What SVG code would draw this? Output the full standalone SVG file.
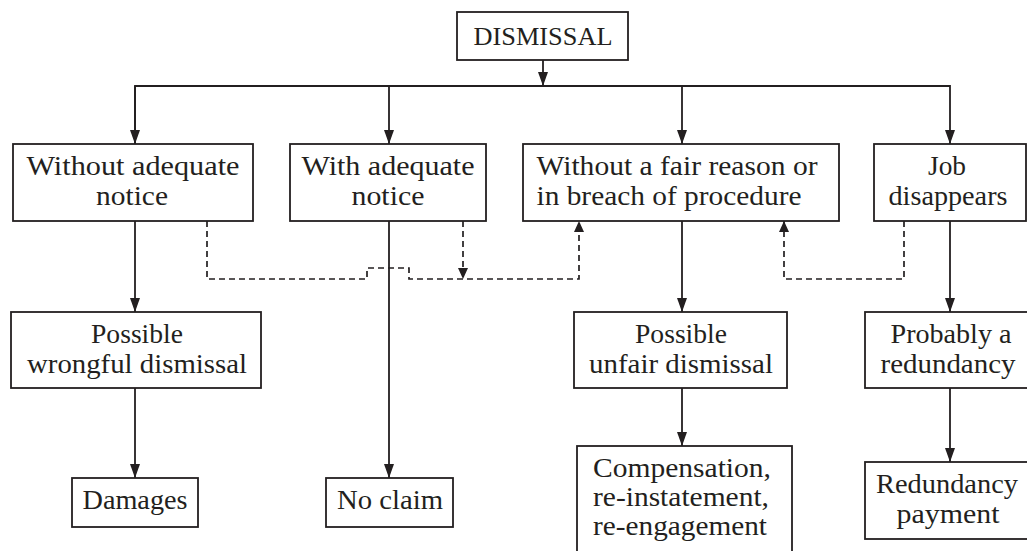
<svg xmlns="http://www.w3.org/2000/svg" width="1027" height="551" viewBox="0 0 1027 551">
<style>
.box{fill:#fff;stroke:#231f20;stroke-width:1.8}
.t{font-family:"Liberation Serif","Times New Roman",serif;font-size:27.5px;fill:#231f20;text-anchor:middle}
.c{font-size:26px}
.l{stroke:#231f20;stroke-width:1.8;fill:none}
.d{stroke:#231f20;stroke-width:1.7;fill:none;stroke-dasharray:6 4}
</style>
<defs>
<marker id="ah" viewBox="0 0 14 10" refX="14" refY="5" markerWidth="14" markerHeight="10" markerUnits="userSpaceOnUse" orient="auto"><path d="M0,0 L14,5 L0,10 Z" fill="#231f20"/></marker>
<marker id="ahs" viewBox="0 0 11 10" refX="11" refY="5" markerWidth="11" markerHeight="10" markerUnits="userSpaceOnUse" orient="auto"><path d="M0,0 L11,5 L0,10 Z" fill="#231f20"/></marker>
</defs>
<rect width="1027" height="551" fill="#fff"/>
<g id="connectors">
<path class="l" d="M543,60 V86" marker-end="url(#ah)"/>
<path class="l" d="M135,144 V86 H950 V144" marker-end="url(#ah)"/>
<path class="l" d="M135,86 V144" marker-end="url(#ah)"/>
<path class="l" d="M389,86 V144" marker-end="url(#ah)"/>
<path class="l" d="M682,86 V144" marker-end="url(#ah)"/>
<path class="l" d="M135,221 V312" marker-end="url(#ah)"/>
<path class="l" d="M135,388 V478" marker-end="url(#ah)"/>
<path class="l" d="M389,221 V478" marker-end="url(#ah)"/>
<path class="l" d="M682,221 V312" marker-end="url(#ah)"/>
<path class="l" d="M682,388 V446" marker-end="url(#ah)"/>
<path class="l" d="M950,221 V312" marker-end="url(#ah)"/>
<path class="l" d="M950,388 V462" marker-end="url(#ah)"/>
<path class="d" d="M207,221 V279 H367 V268 H409 V279 H579 V221" marker-end="url(#ahs)"/>
<path class="d" d="M463,221 V279" marker-end="url(#ahs)"/>
<path class="d" d="M904,221 V279 H784 V221" marker-end="url(#ahs)"/>
</g>
<g id="dismissal"><rect class="box" x="457" y="12" width="171" height="48"/><text class="t c" x="543" y="45" textLength="139" lengthAdjust="spacingAndGlyphs">DISMISSAL</text></g>
<g id="without-notice"><rect class="box" x="13" y="144" width="240" height="77"/><text class="t" x="133" y="175" textLength="213" lengthAdjust="spacingAndGlyphs">Without adequate</text><text class="t" x="132" y="205" textLength="72" lengthAdjust="spacingAndGlyphs">notice</text></g>
<g id="with-notice"><rect class="box" x="290" y="144" width="196" height="77"/><text class="t" x="388" y="175" textLength="173" lengthAdjust="spacingAndGlyphs">With adequate</text><text class="t" x="388" y="205" textLength="73" lengthAdjust="spacingAndGlyphs">notice</text></g>
<g id="unfair-reason"><rect class="box" x="523" y="144" width="316" height="77"/><text class="t" x="677" y="175" textLength="281" lengthAdjust="spacingAndGlyphs">Without a fair reason or</text><text class="t" x="669" y="205" textLength="265" lengthAdjust="spacingAndGlyphs">in breach of procedure</text></g>
<g id="job-disappears"><rect class="box" x="874" y="144" width="152" height="77"/><text class="t" x="947" y="175" textLength="38" lengthAdjust="spacingAndGlyphs">Job</text><text class="t" x="948" y="205" textLength="119" lengthAdjust="spacingAndGlyphs">disappears</text></g>
<g id="wrongful"><rect class="box" x="11" y="312" width="250" height="76"/><text class="t" x="137" y="343" textLength="92" lengthAdjust="spacingAndGlyphs">Possible</text><text class="t" x="137" y="373" textLength="220" lengthAdjust="spacingAndGlyphs">wrongful dismissal</text></g>
<g id="unfair"><rect class="box" x="574" y="312" width="213" height="76"/><text class="t" x="681" y="343" textLength="92" lengthAdjust="spacingAndGlyphs">Possible</text><text class="t" x="681" y="373" textLength="184" lengthAdjust="spacingAndGlyphs">unfair dismissal</text></g>
<g id="redundancy"><rect class="box" x="865" y="312" width="170" height="76"/><text class="t" x="951" y="343" textLength="121" lengthAdjust="spacingAndGlyphs">Probably a</text><text class="t" x="948" y="373" textLength="135" lengthAdjust="spacingAndGlyphs">redundancy</text></g>
<g id="damages"><rect class="box" x="72" y="478" width="126" height="49"/><text class="t" x="135" y="509" textLength="105" lengthAdjust="spacingAndGlyphs">Damages</text></g>
<g id="no-claim"><rect class="box" x="326" y="478" width="127" height="49"/><text class="t" x="390" y="509" textLength="106" lengthAdjust="spacingAndGlyphs">No claim</text></g>
<g id="compensation"><rect class="box" x="577" y="446" width="215" height="120"/><text class="t" x="682" y="477" textLength="178" lengthAdjust="spacingAndGlyphs">Compensation,</text><text class="t" x="681" y="506" textLength="176" lengthAdjust="spacingAndGlyphs">re-instatement,</text><text class="t" x="680" y="535" textLength="174" lengthAdjust="spacingAndGlyphs">re-engagement</text></g>
<g id="redundancy-payment"><rect class="box" x="865" y="462" width="170" height="77"/><text class="t" x="947" y="493" textLength="142" lengthAdjust="spacingAndGlyphs">Redundancy</text><text class="t" x="948" y="523" textLength="103" lengthAdjust="spacingAndGlyphs">payment</text></g>
</svg>
